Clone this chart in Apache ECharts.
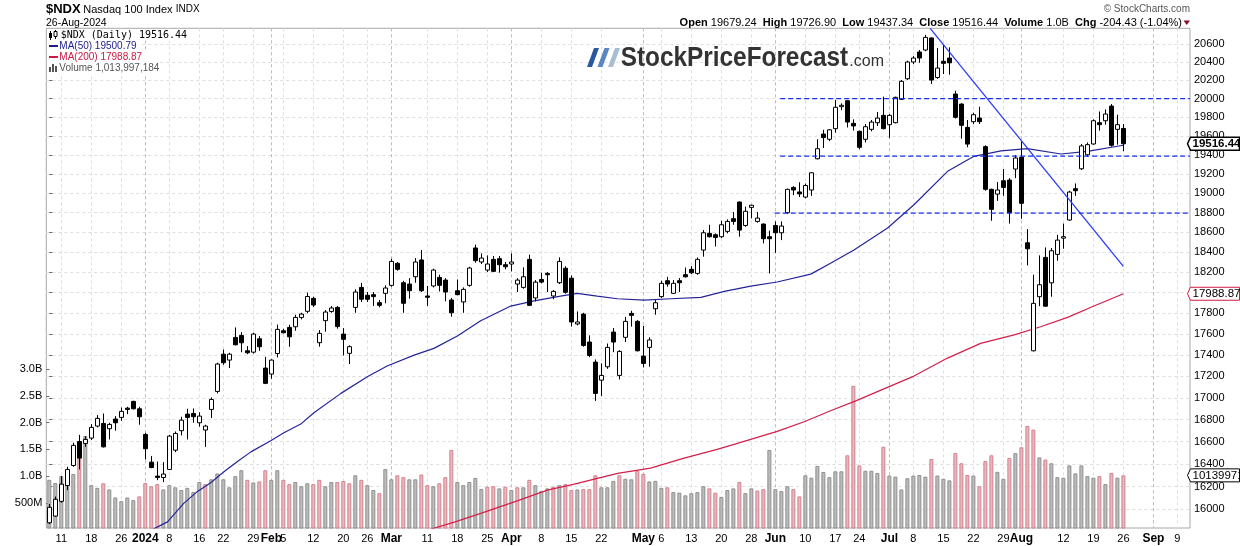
<!DOCTYPE html>
<html><head><meta charset="utf-8">
<script src="https://cdn.jsdelivr.net/npm/echarts@6/dist/echarts.min.js"></script>
<style>html,body{margin:0;padding:0;background:#fff}#c{width:1240px;height:546px}</style>
</head><body><div id="c"></div>
<script>
// ---------------- DATA ----------------
const firstDay = '2023-12-07';
const slotCount = 191; // 180 trading days + future slots up to mid-Sep
const holidays = ['2023-12-25','2024-01-01','2024-01-15','2024-02-19','2024-03-29','2024-05-27','2024-06-19','2024-07-04','2024-09-02'];

const openP = [15884,15942,16070,16209,16386,16601,16584,16632,16741,16765,
16717,16805,16820,16905,16967,16899,16665,16416,16292,16280,
16351,16523,16699,16850,16856,16771,16705,16893,17059,17408,
17352,17567,17586,17440,17427,17554,17277,17221,17414,17631,
17663,17669,17759,17818,17944,17517,17728,17817,17856,17599,
17416,17856,18051,17974,17980,17902,17993,18071,18289,18097,
18084,18156,18322,17967,18065,18149,18123,17928,18019,17909,
18071,18442,18302,18222,18328,18335,18275,18282,18084,18051,
18328,17948,18129,18189,17967,18097,18240,18142,17696,17791,
17523,17333,17164,17289,17618,17208,17568,17798,17721,17390,
17472,17843,17961,18117,17993,18117,18176,18229,18189,18421,
18589,18575,18555,18609,18738,18908,18669,18853,18710,18683,
18555,18669,18595,18799,19059,19012,18959,19032,19358,19620,
19564,19677,19914,19978,19734,19649,19564,19670,19741,19820,
19720,19741,19993,20218,20403,20514,20536,20671,20232,20411,
20447,20051,19942,19691,19752,19791,19486,19039,18990,19128,
19135,19250,19375,18494,17440,17960,18348,18096,18378,18541,
18724,19046,19253,19400,19514,19741,19762,19920,19670,19679.24];

const highP = [16047,16112,16292,16375,16590,16661,16650,16759,16841,16856,
16771,16832,16911,16917,16973,16917,16680,16470,16422,16416,
16661,16692,16826,16899,16902,16868,16753,17003,17327,17452,
17421,17663,17618,17484,17612,17580,17383,17358,17690,17650,
17689,17785,17804,18000,17960,17637,17830,17869,17869,17656,
17492,18032,18096,18006,18006,17928,18071,18335,18302,18116,
18142,18341,18421,18065,18235,18176,18142,17948,18129,18051,
18255,18475,18388,18368,18362,18362,18302,18388,18142,18249,
18375,18123,18196,18202,18025,18348,18260,18169,17817,17804,
17587,17358,17321,17509,17657,17446,17765,17823,17734,17677,
17568,17927,18117,18155,18123,18143,18247,18261,18348,18622,
18676,18589,18717,18731,18805,18915,18861,18881,18805,18690,
18616,18710,18710,19046,19072,19112,19099,19218,19564,19665,
19673,19988,19950,19986,19777,19656,19726,19770,19856,20022,
19834,20022,20205,20417,20469,20536,20707,20678,20559,20603,
20566,20087,19950,19770,19848,19913,19500,19046,19114,19250,
19155,19396,19542,18632,18176,18368,18448,18441,18575,18688,
19025,19100,19514,19530,19777,19862,19884,19942,19827,19726.90];

const lowP = [15873,15936,16058,16168,16375,16351,16554,16614,16729,16547,
16620,16699,16789,16850,16893,16753,16440,16362,16256,16239,
16345,16505,16656,16620,16771,16735,16553,16814,17041,17308,
17277,17491,17427,17408,17414,17440,17127,17177,17377,17605,
17478,17631,17740,17800,17860,17479,17622,17804,17651,17396,
17315,17804,17909,17909,17870,17856,17896,18058,18216,17804,
17941,18097,18006,17870,18051,18012,17915,17766,17974,17804,
18058,18295,18282,18202,18202,18196,18229,18209,18006,18038,
17869,17915,18090,18006,17935,18084,17990,17671,17683,17479,
17380,16972,17016,17270,17427,17171,17523,17671,17434,17284,
17289,17785,17948,18058,17987,18006,18149,18182,18176,18355,
18548,18457,18541,18589,18676,18555,18656,18741,18697,18488,
18189,18393,18521,18785,18979,18959,18946,18972,19351,19472,
19544,19634,19876,19690,19657,19459,19530,19649,19706,19670,
19578,19734,19986,20205,20380,20394,20522,20160,20218,20270,
20262,19785,19570,19479,19727,19727,19025,18717,18920,18972,
18688,19155,18737,18268,17434,17868,17861,17960,18314,18434,
18717,18972,19240,19380,19507,19656,19720,19486,19507,19437.34];

const closeP = [16018,16088,16221,16351,16566,16452,16620,16729,16811,16553,
16756,16771,16875,16893,16899,16826,16536,16368,16280,16310,
16650,16674,16795,16820,16826,16832,16741,16985,17315,17327,
17408,17497,17516,17421,17599,17478,17134,17352,17644,17612,
17573,17759,17791,17962,17879,17606,17811,17850,17671,17549,
17479,18006,17935,17935,17961,17876,18045,18308,18229,17896,
18019,18302,18019,17954,18222,18071,18006,17804,17980,18032,
18242,18315,18341,18282,18209,18275,18255,18302,18123,18156,
17876,18103,18103,18176,18012,18308,18003,17715,17715,17491,
17396,17041,17208,17472,17523,17434,17721,17779,17440,17321,
17543,17901,18091,18084,18091,18097,18155,18195,18328,18595,
18555,18548,18676,18710,18710,18622,18813,18875,18744,18535,
18535,18595,18663,19039,19032,18992,19079,19211,19464,19582,
19665,19907,19929,19748,19706,19479,19698,19748,19791,19677,
19820,20015,20190,20403,20447,20447,20678,20204,20336,20388,
20394,19799,19713,19513,19827,19752,19039,18833,19032,19059,
18799,19366,18895,18434,17895,18077,17868,18414,18521,18555,
19011,19025,19493,19507,19762,19720,19834,19500,19720,19516.44];

// volume in millions of shares
const volumeM = [930,870,1000,950,1040,1340,1750,830,780,865,
750,600,530,600,550,620,870,810,850,750,
830,790,740,780,700,890,850,940,1050,940,
790,1000,1110,930,880,900,1110,930,1110,930,
850,890,810,865,850,930,810,890,890,910,
865,1015,930,830,740,680,1130,940,1015,980,
940,940,1030,830,810,865,980,1490,890,830,
890,965,760,800,810,770,800,740,790,790,
930,830,720,770,800,830,850,740,750,755,
755,1015,790,790,910,1015,950,940,1100,1040,
900,910,780,790,700,690,640,680,700,810,
770,690,610,740,770,890,680,770,730,755,
1490,755,720,810,755,620,1015,970,1190,1077,
980,1090,1090,1390,2690,1200,1100,1100,1060,1550,
1010,990,750,960,1010,1020,990,1320,1010,950,
920,1430,1240,1020,1010,810,1280,1390,1080,950,
1340,1430,1540,1940,1870,1350,1310,1240,980,970,
1200,1050,1200,1000,970,1000,850,1060,970,1014];

// moving averages (day index, value)
const ma50Idx = [16.5,19.7,22.4,24.7,26.9,29.1,31.3,33.6,36.9,39.1,41.9,44.1,48.6,53,56.3,60.8,64.1,68,71.9,76.9,80.8,85.2,88,91.3,94.7,99.1,103.6,108.6,112.5,116.9,121.3,126.9,130.2,134.1,139.7,144.1,149.7,154.1,158.6,163,168.6,173,179];
const ma50Val = [15808,15892,16052,16157,16233,16330,16419,16508,16608,16680,16759,16862,17041,17195,17296,17399,17463,17580,17727,17869,17920,17966,17993,17966,17940,17927,17940,17953,18012,18064,18104,18182,18289,18421,18643,18880,19226,19384,19442,19464,19408,19436,19500.79];
const ma200Idx = [63,67.5,71.9,77.5,83,87.5,90,94.7,100.2,105.8,111.3,116.9,121.3,125.8,130.2,134.5,138.6,144.1,149.7,155.2,160.8,165.2,169.7,174.1,179];
const ma200Val = [15820,15890,15965,16066,16168,16221,16254,16316,16363,16452,16530,16620,16693,16780,16881,16974,17071,17202,17371,17510,17592,17669,17759,17869,17988.87];

// drawn annotations
const supportLevels = [20000, 19385, 18795];
const supportFrom = [121.8, 121.8, 120.9];
const trendLine = [[146.8, 20780], [179, 18259]];

// last values shown as tags on the price / volume scale
const lastClose = 19516.44, lastMa200 = 17988.87, lastVolume = 1013997184;

const priceTicks = [16000,16200,16400,16600,16800,17000,17200,17400,17600,17800,18000,18200,18400,18600,18800,19000,19200,19400,19600,19800,20000,20200,20400,20600];
const volumeTicks = [5e8, 1e9, 1.5e9, 2e9, 2.5e9, 3e9];

const xLabels = [['2023-12-11','11'],['2023-12-18','18'],['2023-12-26','26'],['2024-01-02','2024',1],['2024-01-08','8'],['2024-01-16','16'],['2024-01-22','22'],['2024-01-29','29'],['2024-02-01','Feb',1],['2024-02-05','5'],['2024-02-12','12'],['2024-02-20','20'],['2024-02-26','26'],['2024-03-01','Mar',1],['2024-03-11','11'],['2024-03-18','18'],['2024-03-25','25'],['2024-04-01','Apr',1],['2024-04-08','8'],['2024-04-15','15'],['2024-04-22','22'],['2024-05-01','May',1],['2024-05-06','6'],['2024-05-13','13'],['2024-05-20','20'],['2024-05-28','28'],['2024-06-03','Jun',1],['2024-06-10','10'],['2024-06-17','17'],['2024-06-24','24'],['2024-07-01','Jul',1],['2024-07-08','8'],['2024-07-15','15'],['2024-07-22','22'],['2024-07-29','29'],['2024-08-01','Aug',1],['2024-08-12','12'],['2024-08-19','19'],['2024-08-26','26'],['2024-09-03','Sep',1],['2024-09-09','9']];

// ---------------- BUILD ----------------
function tradingDays(start, count, hol) {
  const out = []; const d = new Date(start + 'T00:00:00Z');
  while (out.length < count) {
    const dow = d.getUTCDay(); const s = d.toISOString().slice(0, 10);
    if (dow !== 0 && dow !== 6 && hol.indexOf(s) < 0) out.push(s);
    d.setUTCDate(d.getUTCDate() + 1);
  }
  return out;
}
const dates = tradingDays(firstDay, slotCount, holidays);
const labelText = {}; const labelIdx = []; const monthIdx = [];
xLabels.forEach(([d, t, m]) => { const i = dates.indexOf(d); if (i < 0) return; labelIdx.push(i); labelText[i] = m ? '{m|' + t + '}' : t; if (m) monthIdx.push(i); });

const candles = openP.map((o, i) => [i, o, closeP[i], lowP[i], highP[i]]);
const vols = volumeM.map((v, i) => {
  const down = i > 0 && closeP[i] < closeP[i - 1];
  return { value: [i, v * 1e6], itemStyle: down ? { color: '#e8b6bd', borderColor: '#d3838f' } : { color: '#bcbcbc', borderColor: '#8f8f8f' } };
});
const ma50 = ma50Idx.map((x, i) => [x, ma50Val[i]]);
const ma200 = ma200Idx.map((x, i) => [x, ma200Val[i]]);
const xMin = -0.5, xMax = 190.1;
const FONT = '"Liberation Sans", Arial, sans-serif';

const gridDash = { color: '#dedede', type: [3, 3], width: 1 };
function hiddenX(grid, extra) {
  return Object.assign({ type: 'value', gridIndex: grid, min: xMin, max: xMax, axisLine: { show: false }, axisTick: { show: false }, axisLabel: { show: false }, splitLine: { show: false } }, extra || {});
}

const supportSeries = supportLevels.map((lv, k) => ({
  type: 'line', xAxisIndex: 0, yAxisIndex: 0, data: [[supportFrom[k], lv], [xMax, lv]],
  symbol: 'none', silent: true, z: 6, lineStyle: { color: '#1530f0', width: 1.2, type: [5, 3] }
}));

const legendBg = '#fff';
const baseGraphic = [
  { type: 'text', x: 46, y: 9.5, style: { text: '$NDX', font: 'bold 13px ' + FONT, fill: '#000', verticalAlign: 'middle' } },
  { type: 'text', x: 83.3, y: 9.5, style: { text: 'Nasdaq 100 Index', font: '11px ' + FONT, fill: '#000', verticalAlign: 'middle' } },
  { type: 'text', x: 175.7, y: 9.5, style: { text: 'INDX', font: '10px ' + FONT, fill: '#000', verticalAlign: 'middle' } },
  { type: 'text', x: 46, y: 22.7, style: { text: '26-Aug-2024', font: '10.5px ' + FONT, fill: '#000', verticalAlign: 'middle' } },
  { type: 'text', x: 1190, y: 9.5, style: { text: '\u00A9 StockCharts.com', font: '10px ' + FONT, fill: '#555', align: 'right', verticalAlign: 'middle' } },
  { type: 'text', x: 1182, y: 22.5, style: {
      text: '{b|Open} 19679.24  {b|High} 19726.90  {b|Low} 19437.34  {b|Close} 19516.44  {b|Volume} 1.0B  {b|Chg} -204.43 (-1.04%)',
      font: '11px ' + FONT, fill: '#000', align: 'right', verticalAlign: 'middle',
      rich: { b: { font: 'bold 11px ' + FONT, fill: '#000' } } } },
  { type: 'polygon', shape: { points: [[1183.5, 20.5], [1190, 20.5], [1186.75, 25]] }, style: { fill: '#8b0f24' } },
  // legend (opaque block over the grid)
  { type: 'rect', z: 50, shape: { x: 47.5, y: 29.5, width: 143, height: 11 }, style: { fill: legendBg } },
  { type: 'rect', z: 50, shape: { x: 47.5, y: 40.5, width: 92, height: 33 }, style: { fill: legendBg } },
  { type: 'rect', z: 50, shape: { x: 139, y: 51.5, width: 18, height: 22 }, style: { fill: legendBg } },
  { type: 'line', z: 51, shape: { x1: 50.5, y1: 31, x2: 50.5, y2: 40 }, style: { stroke: '#000', lineWidth: 1 } },
  { type: 'rect', z: 51, shape: { x: 49, y: 33, width: 3, height: 5 }, style: { fill: '#000' } },
  { type: 'line', z: 51, shape: { x1: 55.5, y1: 30, x2: 55.5, y2: 39 }, style: { stroke: '#000', lineWidth: 1 } },
  { type: 'rect', z: 51, shape: { x: 54, y: 31.5, width: 3, height: 5 }, style: { fill: '#fff', stroke: '#000', lineWidth: 1 } },
  { type: 'text', z: 51, x: 60.7, y: 35, style: { text: '$NDX (Daily) 19516.44', font: '10px "DejaVu Sans Mono", monospace', fill: '#000', verticalAlign: 'middle' } },
  { type: 'rect', z: 51, shape: { x: 49, y: 45, width: 9, height: 2 }, style: { fill: '#1c1c8c' } },
  { type: 'text', z: 51, x: 59.3, y: 46, style: { text: 'MA(50) 19500.79', font: '10px ' + FONT, fill: '#1c1c8c', verticalAlign: 'middle' } },
  { type: 'rect', z: 51, shape: { x: 49, y: 56, width: 9, height: 2 }, style: { fill: '#cc1a44' } },
  { type: 'text', z: 51, x: 59.3, y: 57, style: { text: 'MA(200) 17988.87', font: '10px ' + FONT, fill: '#cc1a44', verticalAlign: 'middle' } },
  { type: 'rect', z: 51, shape: { x: 49, y: 67, width: 2, height: 5 }, style: { fill: '#555' } },
  { type: 'rect', z: 51, shape: { x: 52, y: 64, width: 2, height: 8 }, style: { fill: '#555' } },
  { type: 'rect', z: 51, shape: { x: 55, y: 66, width: 2, height: 6 }, style: { fill: '#555' } },
  { type: 'text', z: 51, x: 59.3, y: 68, style: { text: 'Volume 1,013,997,184', font: '10px ' + FONT, fill: '#555', verticalAlign: 'middle' } },
  // logo
  { type: 'polygon', z: 51, shape: { points: [[587, 67], [592, 67], [599, 48], [594, 48]] }, style: { fill: '#2b579e' } },
  { type: 'polygon', z: 51, shape: { points: [[597.5, 67], [602.5, 67], [609.5, 48], [604.5, 48]] }, style: { fill: '#5a86c4' } },
  { type: 'polygon', z: 51, shape: { points: [[608, 67], [613, 67], [620, 48], [615, 48]] }, style: { fill: '#a9bdd3' } },
  { type: 'text', z: 51, x: 620.7, y: 58, scaleX: 0.87, style: { text: 'StockPriceForecast', font: 'bold 28px ' + FONT, fill: '#333', verticalAlign: 'middle' } },
  { type: 'text', z: 51, x: 849.3, y: 61.7, style: { text: '.com', font: '16px ' + FONT, fill: '#333', verticalAlign: 'middle' } }
];

const option = {
  animation: false,
  backgroundColor: '#fff',
  grid: [
    { left: 46.3, right: 50, top: 28.3, bottom: 18, show: true, borderColor: '#a8a8a8', borderWidth: 1 },
    { left: 46.3, right: 50, top: 369.3, bottom: 18, show: false }
  ],
  xAxis: [
    hiddenX(0, {
      axisLabel: { show: true, customValues: labelIdx, margin: 5, fontSize: 11, color: '#000', fontFamily: FONT,
        formatter: v => labelText[v] || '', rich: { m: { fontWeight: 'bold', fontSize: 12, fontFamily: FONT, color: '#000' } } },
      axisTick: { show: false, customValues: labelIdx },
      splitLine: { show: true, customValues: labelIdx, lineStyle: gridDash }
    }),
    hiddenX(1),
    hiddenX(0, { axisTick: { show: false, customValues: monthIdx }, splitLine: { show: true, customValues: monthIdx, lineStyle: { color: '#bdbdbd', type: [3, 3], width: 1 } } })
  ],
  yAxis: [
    { type: 'log', gridIndex: 0, position: 'right', min: 15839, max: 20780,
      axisLine: { show: false },
      axisTick: { show: true, length: 3, customValues: priceTicks, lineStyle: { color: '#666' } },
      axisLabel: { customValues: priceTicks, margin: 4, fontSize: 11, color: '#000', fontFamily: FONT, formatter: v => String(Math.round(v)) },
      splitLine: { show: true, customValues: priceTicks, lineStyle: gridDash } },
    { type: 'value', gridIndex: 1, position: 'left', min: 28e6, max: 3e9,
      axisLine: { show: false },
      axisTick: { show: true, length: 3, customValues: volumeTicks, lineStyle: { color: '#666' } },
      axisLabel: { customValues: volumeTicks, margin: 4, fontSize: 11, color: '#000', fontFamily: FONT,
        formatter: v => v < 1e9 ? Math.round(v / 1e6) + 'M' : (v / 1e9).toFixed(1) + 'B' },
      splitLine: { show: false } }
  ],
  series: [
    { type: 'bar', name: 'Volume', xAxisIndex: 1, yAxisIndex: 1, data: vols, barWidth: 4, z: 2, silent: true, itemStyle: { borderWidth: 1 } },
    { type: 'line', name: 'MA200', xAxisIndex: 0, yAxisIndex: 0, data: ma200, symbol: 'none', z: 4, silent: true, lineStyle: { color: '#d41f4a', width: 1.2 } },
    { type: 'line', name: 'MA50', xAxisIndex: 0, yAxisIndex: 0, data: ma50, symbol: 'none', z: 4, silent: true, lineStyle: { color: '#24249a', width: 1.2 } },
    { type: 'candlestick', name: '$NDX', xAxisIndex: 0, yAxisIndex: 0, data: candles, barWidth: 4, z: 5, silent: true,
      encode: { x: 0, y: [1, 2, 3, 4] },
      itemStyle: { color: '#fff', color0: '#000', borderColor: '#000', borderColor0: '#000', borderWidth: 1 } },
    { type: 'line', name: 'Trend', xAxisIndex: 0, yAxisIndex: 0, data: trendLine, symbol: 'none', z: 6, silent: true, lineStyle: { color: '#2a3cff', width: 1.3 } }
  ].concat(supportSeries),
  graphic: baseGraphic
};

const chart = echarts.init(document.getElementById('c'));
chart.setOption(option);

// value tags on the right scale, placed through the axes' own scales
function tagGraphic(y, text, border, bold, lw) {
  return [
    { type: 'polygon', z: 60, shape: { points: [[1187.5, y], [1190.5, y - 6.5], [1239.5, y - 6.5], [1239.5, y + 6.5], [1190.5, y + 6.5]] },
      style: { fill: '#fff', stroke: border, lineWidth: lw } },
    { type: 'text', z: 61, x: 1192.5, y: y + 0.5, style: { text: text, font: (bold ? 'bold ' : '') + '11.5px ' + FONT, fill: '#000', verticalAlign: 'middle' } }
  ];
}
const yClose = chart.convertToPixel({ yAxisIndex: 0 }, lastClose);
const yMa200 = chart.convertToPixel({ yAxisIndex: 0 }, lastMa200);
const yVol = chart.convertToPixel({ yAxisIndex: 1 }, lastVolume);
option.graphic = baseGraphic
  .concat(tagGraphic(yClose, lastClose.toFixed(2), '#000', true, 1.5))
  .concat(tagGraphic(yMa200, lastMa200.toFixed(2), '#cc1a44', false, 1))
  .concat(tagGraphic(yVol, String(lastVolume), '#000', false, 1));
chart.setOption(option, true);
</script>
</body></html>
